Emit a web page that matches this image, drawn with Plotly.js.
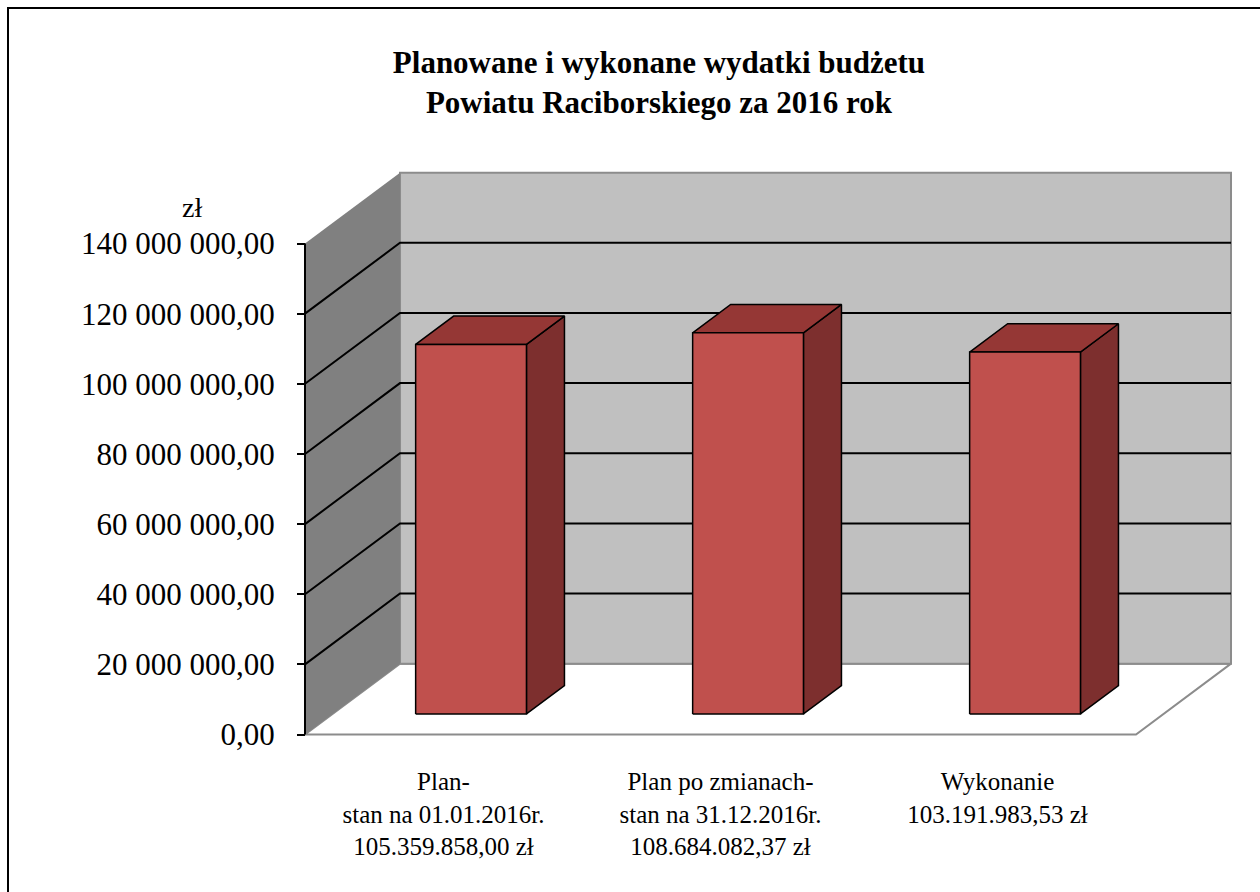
<!DOCTYPE html>
<html>
<head>
<meta charset="utf-8">
<script src="https://cdn.plot.ly/plotly-3.0.1.min.js"></script>
<style>
  html, body { margin: 0; padding: 0; overflow: hidden; background: #fff; }
  #chart { width: 1260px; height: 892px; }
  #frame { position: absolute; left: 7px; top: 7px; width: 1300px; height: 950px;
           border-left: 2px solid #000; border-top: 2px solid #000; pointer-events: none; }
</style>
</head>
<body>
<div id="chart"></div>
<div id="frame"></div>
<script>
// ---- data ----
const categories = [
  "Plan-<br>stan na 01.01.2016r.<br>105.359.858,00 zł",
  "Plan po zmianach-<br>stan na 31.12.2016r.<br>108.684.082,37 zł",
  "Wykonanie<br>103.191.983,53 zł"
];
const values = [105359858.00, 108684082.37, 103191983.53];
const yTicks = [0, 20000000, 40000000, 60000000, 80000000, 100000000, 120000000, 140000000];
const unitLabel = "zł";
const titleText = "<b>Planowane i wykonane wydatki budżetu<br>Powiatu Raciborskiego za 2016 rok</b>";

// ---- 3D projection parameters (style) ----
const yMax = 140000000;
const D = 0.343;            // depth offset along x (category units)
const DV = 20200000;        // depth offset along y (value units)
const fFront = 0.29, fBack = 0.69, halfW = 0.2;

// ---- pixel layout ----
const ml = 297, mr = 23, mt = 166, mb = 150;
const W = 1260, H = 892;
const pw = W - ml - mr, ph = H - mt - mb;
const kx = 277;                 // px per category unit
const ky = 3.507e-6;            // px per value unit
const xmin = -(305 - ml) / kx, xmax = xmin + pw / kx;
const ymin = -((H - mb) - 734.5) / ky, ymax = ymin + ph / ky;
const nCat = categories.length;

const traces = [];
function poly(xs, ys, fill, lineColor, lineWidth) {
  traces.push({
    type: 'scatter', mode: 'lines', x: xs.concat([xs[0]]), y: ys.concat([ys[0]]),
    fill: 'toself', fillcolor: fill,
    line: { color: lineColor || 'rgba(0,0,0,0)', width: lineWidth || 0 },
    hoverinfo: 'skip', showlegend: false
  });
}
// floor
poly([0, nCat, nCat + D, D], [0, 0, DV, DV], '#FFFFFF', '#8C8C8C', 2);
// back wall
poly([D, nCat + D, nCat + D, D], [DV, DV, yMax + DV, yMax + DV], '#C0C0C0', '#8C8C8C', 2);
// left wall
poly([0, D, D, 0], [0, DV, yMax + DV, yMax], '#808080');
// gridlines
const gx = [], gy = [];
yTicks.forEach(v => {
  if (v > 0 && v < yMax) {
    gx.push(0, D, nCat + D, null);
    gy.push(v, v + DV, v + DV, null);
  }
});
traces.push({ type: 'scatter', mode: 'lines', x: gx, y: gy, line: { color: '#000', width: 2 },
  hoverinfo: 'skip', showlegend: false, connectgaps: false });
// y axis line
traces.push({ type: 'scatter', mode: 'lines', x: [0, 0], y: [0, yMax], line: { color: '#000', width: 2 },
  hoverinfo: 'skip', showlegend: false });
// bars
values.forEach((v, i) => {
  const c = i + 0.5;
  const fx = fFront * D, fy = fFront * DV, bx = fBack * D, by = fBack * DV;
  const L = c - halfW, R = c + halfW;
  poly([R + fx, R + bx, R + bx, R + fx], [fy, by, v + by, v + fy], '#7D2F2E', '#000', 1.5);
  poly([L + fx, R + fx, R + bx, L + bx], [v + fy, v + fy, v + by, v + by], '#953735', '#000', 1.5);
  poly([L + fx, R + fx, R + fx, L + fx], [fy, fy, v + fy, v + fy], '#C0504D', '#000', 1.5);
});

const layout = {
  width: W, height: H,
  margin: { l: ml, r: mr, t: mt, b: mb, pad: 0 },
  paper_bgcolor: '#fff', plot_bgcolor: 'rgba(0,0,0,0)',
  separators: ', ',
  font: { family: 'Liberation Serif, Times New Roman, serif', color: '#000' },
  title: {
    text: titleText, font: { family: 'Liberation Serif', size: 31, color: '#000' },
    xref: 'container', x: 0.523, xanchor: 'center', yref: 'container', y: 0.918, yanchor: 'top'
  },
  xaxis: {
    range: [xmin, xmax], showgrid: false, zeroline: false, showline: false,
    tickmode: 'array', tickvals: categories.map((_, i) => i + 0.5), ticktext: categories,
    ticks: '', tickfont: { size: 25, family: 'Liberation Serif', color: '#000' },
    ticklabelstandoff: 22, fixedrange: true
  },
  yaxis: {
    range: [ymin, ymax], anchor: 'free', position: (0 - xmin) / (xmax - xmin),
    showgrid: false, zeroline: false, showline: false,
    tickmode: 'array', tickvals: yTicks, tickformat: ',.2f',
    ticks: 'outside', ticklen: 8, tickwidth: 2, tickcolor: '#000',
    tickfont: { size: 31, family: 'Liberation Serif', color: '#000' },
    ticklabelstandoff: 16, fixedrange: true
  },
  annotations: [{
    text: unitLabel, xref: 'paper', yref: 'paper',
    x: (192 - ml) / pw, y: ((H - mb) - 207) / ph, xanchor: 'center', yanchor: 'middle',
    showarrow: false, font: { size: 28, family: 'Liberation Serif', color: '#000' }
  }]
};
Plotly.newPlot('chart', traces, layout, { staticPlot: true, displayModeBar: false });
</script>
</body>
</html>
